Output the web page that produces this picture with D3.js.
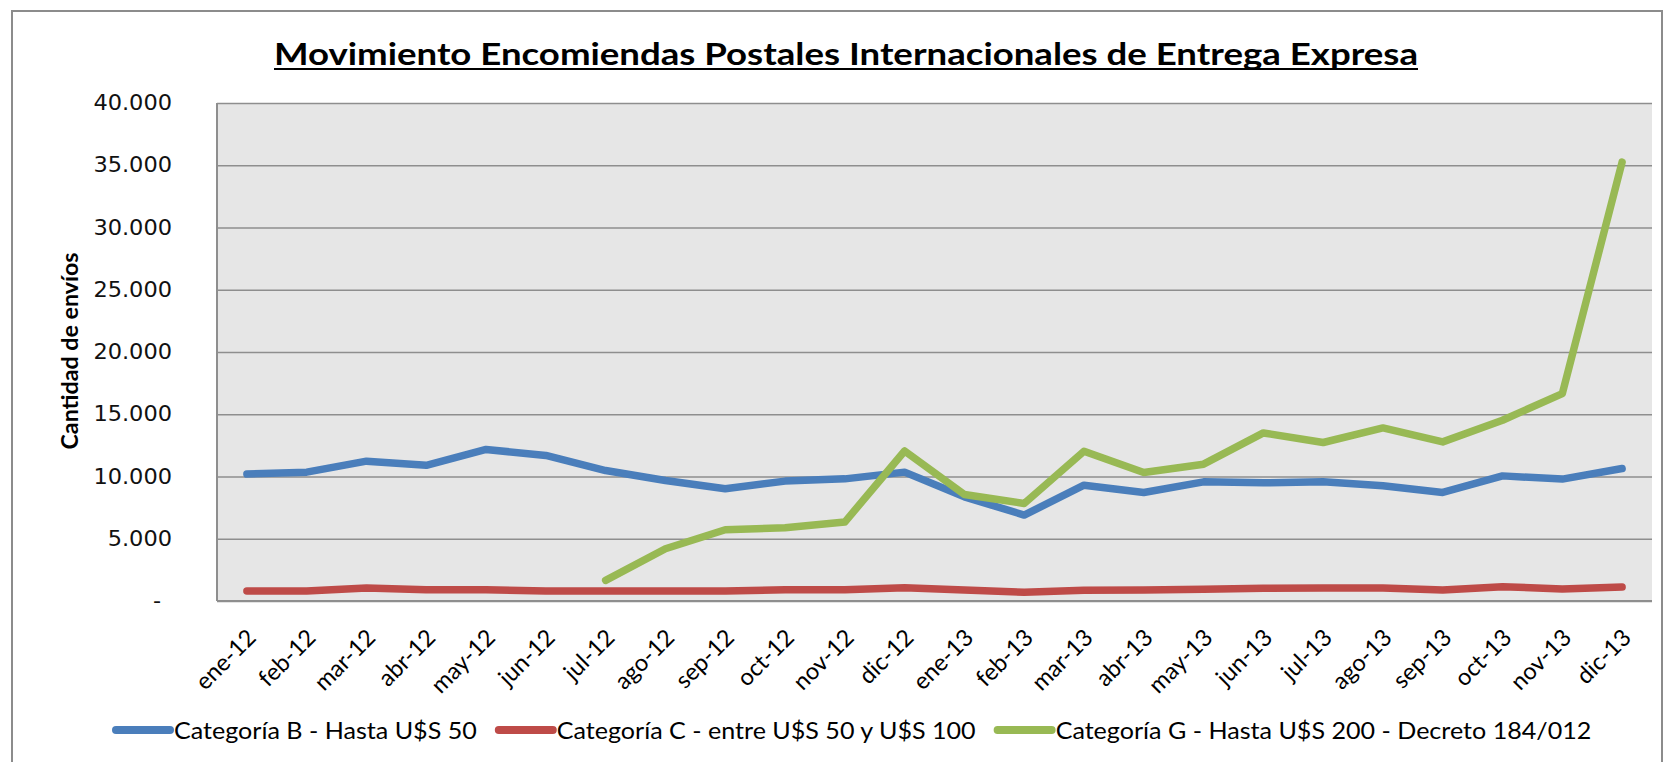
<!DOCTYPE html>
<html>
<head>
<meta charset="utf-8">
<script src="https://cdn.jsdelivr.net/npm/d3@7"></script>
<style>
  body { margin: 0; background: #fff; }
  svg { display: block; }
</style>
</head>
<body>
<svg id="chart" width="1665" height="762"></svg>
<script>
var categories = ["ene-12","feb-12","mar-12","abr-12","may-12","jun-12","jul-12","ago-12","sep-12","oct-12","nov-12","dic-12",
                  "ene-13","feb-13","mar-13","abr-13","may-13","jun-13","jul-13","ago-13","sep-13","oct-13","nov-13","dic-13"];
var catB = [10200, 10350, 11230, 10900, 12170, 11690, 10480, 9680, 9010, 9630, 9810, 10350,
            8370, 6900, 9300, 8720, 9570, 9490, 9570, 9250, 8720, 10050, 9790, 10640];
var catC = [800, 800, 1040, 910, 910, 800, 800, 800, 800, 910, 910, 1070,
            880, 700, 860, 880, 940, 1020, 1040, 1040, 880, 1150, 960, 1120];
var catG = [null, null, null, null, null, null, 1660, 4200, 5720, 5880, 6340, 12050,
            8560, 7835, 12030, 10320, 10990, 13500, 12730, 13900, 12780, 14520, 16660, 35250];
var seriesNames = ["Categoría B - Hasta U$S 50", "Categoría C - entre U$S 50 y U$S 100", "Categoría G - Hasta U$S 200 - Decreto 184/012"];
var seriesColors = ["#4a7ebb", "#be4b48", "#98b954"];
var yTicks = [0, 5000, 10000, 15000, 20000, 25000, 30000, 35000, 40000];
var titleText = "Movimiento Encomiendas Postales Internacionales de Entrega Expresa";
var yTitle = "Cantidad de envíos";

var plotLeft = 217, plotRight = 1652, plotTop = 103, plotBottom = 601;
var lineWidth = 7.5;

var svg = d3.select("#chart");

// outer chart frame
svg.append("rect")
  .attr("x", 12).attr("y", 11)
  .attr("width", 1650).attr("height", 800)
  .attr("fill", "#fff")
  .attr("stroke", "#8c8c8c")
  .attr("stroke-width", 2);

// title
svg.append("text")
  .attr("x", 846).attr("y", 65)
  .attr("text-anchor", "middle")
  .attr("font-family", "Lato, 'Open Sans', sans-serif")
  .attr("font-weight", "bold")
  .attr("font-size", 30)
  .attr("textLength", 1144)
  .attr("lengthAdjust", "spacingAndGlyphs")
  .text(titleText);
svg.append("line")
  .attr("x1", 846 - 572).attr("x2", 846 + 572)
  .attr("y1", 69).attr("y2", 69)
  .attr("stroke", "#000").attr("stroke-width", 2);

var xScale = d3.scalePoint().domain(categories).range([plotLeft, plotRight]).padding(0.5);
var yScale = d3.scaleLinear().domain([0, 40000]).range([plotBottom, plotTop]);

// plot background
svg.append("rect")
  .attr("x", plotLeft).attr("y", plotTop)
  .attr("width", plotRight - plotLeft).attr("height", plotBottom - plotTop)
  .attr("fill", "#e6e6e6");

// gridlines
var grid = d3.axisLeft(yScale).tickValues(yTicks).tickSize(-(plotRight - plotLeft)).tickFormat("");
svg.append("g")
  .attr("transform", "translate(" + plotLeft + ",0)")
  .call(grid)
  .call(function(g) { g.select(".domain").remove(); })
  .selectAll("line")
  .attr("stroke", "#8e8e8e")
  .attr("stroke-width", 1.5);

// plot left/bottom border
svg.append("line")
  .attr("x1", plotLeft).attr("x2", plotLeft).attr("y1", plotTop).attr("y2", plotBottom)
  .attr("stroke", "#8e8e8e").attr("stroke-width", 2);
svg.append("line")
  .attr("x1", plotLeft).attr("x2", plotRight).attr("y1", plotBottom).attr("y2", plotBottom)
  .attr("stroke", "#8e8e8e").attr("stroke-width", 2);

// y axis labels
var esLocale = d3.formatLocale({decimal: ",", thousands: ".", grouping: [3], currency: ["$", ""]});
var fmt = esLocale.format(",.0f");
var yAxis = d3.axisLeft(yScale).tickValues(yTicks).tickSize(0).tickPadding(45)
  .tickFormat(function(d) { return d === 0 ? "-" : fmt(d); });
var yg = svg.append("g")
  .attr("transform", "translate(" + plotLeft + ",0)")
  .call(yAxis);
yg.select(".domain").remove();
yg.selectAll("text")
  .attr("font-family", "'DejaVu Sans', Verdana, sans-serif")
  .attr("font-size", 21)
  .attr("fill", "#111")
  .attr("dx", function(d) { return d === 0 ? -11 : 0; })
  .each(function() {
    var w = this.getComputedTextLength();
    d3.select(this).attr("textLength", w * 1.07).attr("lengthAdjust", "spacingAndGlyphs");
  });

// y axis title
svg.append("text")
  .attr("transform", "translate(78,351) rotate(-90)")
  .attr("text-anchor", "middle")
  .attr("font-family", "Lato, 'Open Sans', sans-serif")
  .attr("font-weight", "bold")
  .attr("font-size", 23)
  .attr("textLength", 197)
  .attr("lengthAdjust", "spacingAndGlyphs")
  .text(yTitle);

// x axis labels
var xAxis = d3.axisBottom(xScale).tickSize(0);
var xg = svg.append("g")
  .attr("transform", "translate(0," + plotBottom + ")")
  .call(xAxis);
xg.select(".domain").remove();
xg.selectAll("text")
  .attr("x", 0).attr("y", 0).attr("dy", 0)
  .attr("text-anchor", "end")
  .attr("transform", "translate(10,38) rotate(-45)")
  .attr("font-family", "Lato, 'Open Sans', sans-serif")
  .attr("font-size", 23.5)
  .attr("fill", "#000");

// series lines
var series = [catB, catC, catG];
var line = d3.line()
  .defined(function(d) { return d != null; })
  .x(function(d, i) { return xScale(categories[i]); })
  .y(function(d) { return yScale(d); });

svg.append("g").selectAll("path").data(series).enter()
  .append("path")
  .attr("d", function(d) { return line(d); })
  .attr("fill", "none")
  .attr("stroke", function(d, i) { return seriesColors[i]; })
  .attr("stroke-width", lineWidth)
  .attr("stroke-linejoin", "round")
  .attr("stroke-linecap", "round");

// legend
var legend = svg.append("g").attr("transform", "translate(112,0)");
var symLen = 54, gap = 18, stretch = 1.045;
var x0 = 0;
seriesNames.forEach(function(name, i) {
  var g = legend.append("g");
  g.append("line")
    .attr("x1", x0 + 4).attr("x2", x0 + 4 + symLen)
    .attr("y1", 730).attr("y2", 730)
    .attr("stroke", seriesColors[i])
    .attr("stroke-width", 8)
    .attr("stroke-linecap", "round");
  var t = g.append("text")
    .attr("x", x0 + symLen + 8)
    .attr("y", 739)
    .attr("font-family", "Lato, 'Open Sans', sans-serif")
    .attr("font-size", 24)
    .attr("fill", "#000")
    .text(name);
  var w = t.node().getComputedTextLength() * stretch;
  t.attr("textLength", w).attr("lengthAdjust", "spacingAndGlyphs");
  x0 += symLen + 8 + w + gap;
});
</script>
</body>
</html>
